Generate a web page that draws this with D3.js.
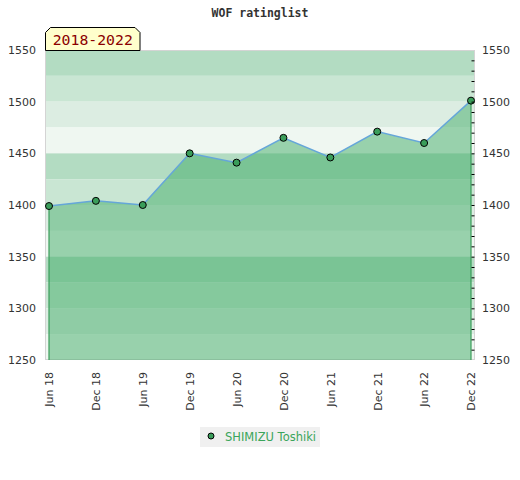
<!DOCTYPE html>
<html>
<head>
<meta charset="utf-8">
<script src="https://cdn.jsdelivr.net/npm/d3@7"></script>
<style>
  body { margin: 0; background: #fff; }
  svg { display: block; }
  .axis text { font-family: "DejaVu Sans", sans-serif; font-size: 11px; fill: #333; }
  .axis path { display: none; }
</style>
</head>
<body>
<svg id="chart" width="520" height="480"></svg>
<script>
/* chart data */
var periods = ["Jun 18", "Dec 18", "Jun 19", "Dec 19", "Jun 20", "Dec 20", "Jun 21", "Dec 21", "Jun 22", "Dec 22"];
var ratings = [1399, 1404, 1400, 1450, 1441, 1465, 1446, 1471, 1460, 1501];
var yTicks = [1250, 1300, 1350, 1400, 1450, 1500, 1550];
var player = "SHIMIZU Toshiki";
var tabLabel = "2018-2022";
var title = "WOF ratinglist";

var svg = d3.select("#chart");

/* plot region */
var plot = {left: 45, right: 475, top: 50, bottom: 360};

var x = d3.scalePoint().domain(periods).range([plot.left + 4, plot.right - 4]);
var y = d3.scaleLinear().domain([d3.min(yTicks), d3.max(yTicks)]).range([plot.bottom, plot.top]);

/* title */
svg.append("text")
    .attr("x", 260)
    .attr("y", 17)
    .attr("text-anchor", "middle")
    .style("font-family", "'DejaVu Sans Mono', monospace")
    .style("font-weight", "bold")
    .style("font-size", "11.5px")
    .style("fill", "#333")
    .text(title);

/* background bands, 25 points each, repeating shades */
var bandColors = ["#b3dcc2", "#c9e6d3", "#dcede2", "#eff7f1"];
var bandStarts = d3.range(y.domain()[1], y.domain()[0], -25);
svg.append("g").selectAll("rect")
    .data(bandStarts)
    .enter().append("rect")
      .attr("x", plot.left)
      .attr("y", function(d) { return y(d); })
      .attr("width", plot.right - plot.left)
      .attr("height", function(d) { return y(d - 25) - y(d); })
      .style("fill", function(d, i) { return bandColors[i % 4]; });

/* frame */
svg.append("rect")
    .attr("x", plot.left + 0.5)
    .attr("y", plot.top + 0.5)
    .attr("width", plot.right - plot.left - 1)
    .attr("height", plot.bottom - plot.top - 1)
    .style("fill", "none")
    .style("stroke", "#d4d4d4");

/* area under the rating line */
var area = d3.area()
    .x(function(d, i) { return x(periods[i]); })
    .y0(y(y.domain()[0]))
    .y1(function(d) { return y(d); });

svg.append("path")
    .datum(ratings)
    .attr("d", area)
    .style("fill", "rgb(65,172,103)")
    .style("fill-opacity", 0.5);

/* green vertical edges of the area */
[0, ratings.length - 1].forEach(function(i) {
  svg.append("line")
      .attr("x1", x(periods[i]))
      .attr("x2", x(periods[i]))
      .attr("y1", y(ratings[i]))
      .attr("y2", y(y.domain()[0]))
      .style("stroke", "#3a9d5a")
      .style("stroke-width", 1.2);
});

var line = d3.line()
    .x(function(d, i) { return x(periods[i]); })
    .y(function(d) { return y(d); });

svg.append("path")
    .datum(ratings)
    .attr("d", line)
    .style("fill", "none")
    .style("stroke", "#65a6d9")
    .style("stroke-width", 1.5);

svg.append("g").selectAll("circle")
    .data(ratings)
    .enter().append("circle")
      .attr("cx", function(d, i) { return x(periods[i]); })
      .attr("cy", function(d) { return y(d); })
      .attr("r", 3.5)
      .style("fill", "#3a9d5a")
      .style("stroke", "#000")
      .style("stroke-width", 1);

/* left axis: labels only */
svg.append("g")
    .attr("class", "axis")
    .attr("transform", "translate(" + plot.left + ",0)")
    .call(d3.axisLeft(y).tickValues(yTicks).tickSize(0).tickPadding(9).tickFormat(d3.format("d")));

/* right axis: minor ticks inside + labels */
var minorTicks = d3.range(y.domain()[0] + 10, y.domain()[1], 10);
var rightTicks = svg.append("g")
    .attr("class", "axis")
    .attr("transform", "translate(" + (plot.right - 0.5) + ",0)")
    .call(d3.axisRight(y).tickValues(minorTicks).tickSize(-3).tickFormat(""));
rightTicks.selectAll("line").style("stroke", "#000");

svg.append("g")
    .attr("class", "axis")
    .attr("transform", "translate(" + plot.right + ",0)")
    .call(d3.axisRight(y).tickValues(yTicks).tickSize(0).tickPadding(7).tickFormat(d3.format("d")));

/* bottom axis: rotated labels */
var xAxis = svg.append("g")
    .attr("class", "axis")
    .attr("transform", "translate(0," + plot.bottom + ")")
    .call(d3.axisBottom(x).tickSize(0).tickPadding(0));
xAxis.selectAll("text")
    .attr("transform", "rotate(-90)")
    .attr("x", -12)
    .attr("y", 0)
    .attr("dy", "0.35em")
    .attr("text-anchor", "end");

/* year tab */
var tx0 = 45.5, tx1 = 140, ty0 = 27.5, ty1 = 50.5, bev = 5;
svg.append("path")
    .attr("d", "M" + tx0 + "," + ty1 + "L" + tx0 + "," + (ty0 + bev) + "L" + (tx0 + bev) + "," + ty0 +
               "L" + (tx1 - bev) + "," + ty0 + "L" + tx1 + "," + (ty0 + bev) + "L" + tx1 + "," + ty1 + "Z")
    .style("fill", "#ffffcc")
    .style("stroke", "#000")
    .style("stroke-width", 1);
svg.append("text")
    .attr("x", (tx0 + tx1) / 2)
    .attr("y", 45)
    .attr("text-anchor", "middle")
    .style("font-family", "'DejaVu Sans Mono', monospace")
    .style("font-size", "14.8px")
    .style("fill", "#8b0000")
    .text(tabLabel);

/* legend */
var legend = svg.append("g").attr("transform", "translate(200,427)");
legend.append("rect")
    .attr("width", 120)
    .attr("height", 20)
    .style("fill", "#f0f0f0");
legend.append("circle")
    .attr("cx", 11)
    .attr("cy", 9)
    .attr("r", 3)
    .style("fill", "#3a9d5a")
    .style("stroke", "#000");
legend.append("text")
    .attr("x", 25)
    .attr("y", 13.5)
    .style("font-family", "'DejaVu Sans', sans-serif")
    .style("font-size", "11.5px")
    .style("fill", "#3aa55a")
    .text(player);
</script>
</body>
</html>
